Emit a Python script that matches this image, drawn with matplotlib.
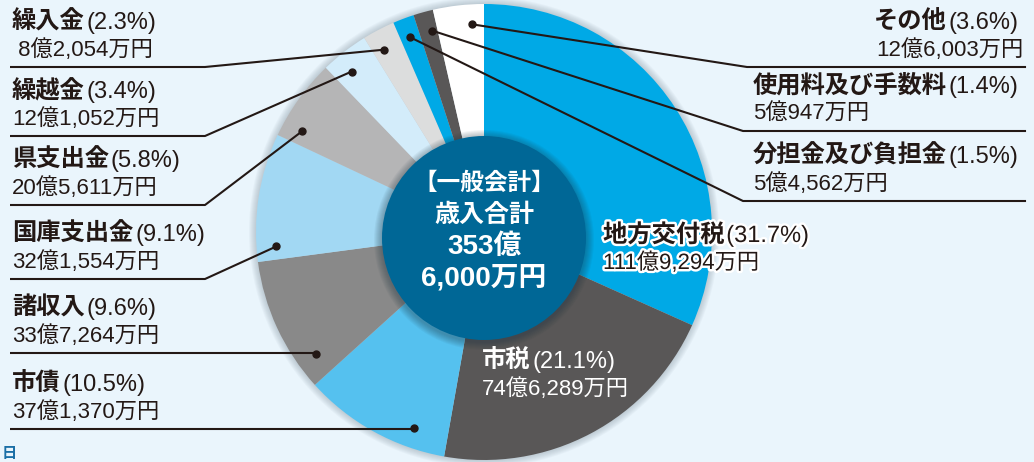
import matplotlib.pyplot as plt
import matplotlib.patheffects as pe
from matplotlib.patches import Circle
import numpy as np

# 数字は Helvetica 風、漢字は Noto Sans CJK JP にフォールバック
plt.rcParams['font.family'] = ['Liberation Sans', 'Noto Sans CJK JP', 'DejaVu Sans']

# 歳入の内訳（時計回り、12時の位置から）
names = ['地方交付税', '市税', '市債', '諸収入', '国庫支出金', '県支出金',
         '繰越金', '繰入金', '分担金及び負担金', '使用料及び手数料', 'その他']
shares = [31.7, 21.1, 10.5, 9.6, 9.1, 5.8, 3.4, 2.3, 1.5, 1.4, 3.6]
amounts = ['111億9,294万円', '74億6,289万円', '37億1,370万円', '33億7,264万円',
           '32億1,554万円', '20億5,611万円', '12億1,052万円', ' 8億2,054万円',
           '5億4,562万円', '5億947万円', '12億6,003万円']
total_lines = ['【一般会計】', '歳入合計', '353億', '6,000万円']

colors = ['#00A9E6', '#595757', '#55C1EF', '#898989', '#A2D8F3', '#B5B5B6',
          '#D3ECFA', '#DCDDDD', '#00A9E6', '#595757', '#FFFFFF']

BG = '#EAF5FC'
INK = '#231815'
cx, cy, R = 484, 232, 228

fig = plt.figure(figsize=(10.34, 4.62), dpi=100, facecolor=BG)
ax = fig.add_axes([0, 0, 1, 1])
ax.set_facecolor(BG)

# 円の影
for k in range(1, 8):
    ax.add_patch(Circle((cx, cy), R + k, color='#7a8a96', alpha=0.06, lw=0, zorder=0.5))

# y軸が下向きなので startangle=270, counterclock=True で見た目は時計回り
ax.pie(shares, colors=colors, startangle=270, counterclock=True,
       radius=R, center=(cx, cy), wedgeprops=dict(linewidth=0), frame=True)

# 中央の円
icx, icy, ir = 484, 238, 102
for k in range(1, 9):
    ax.add_patch(Circle((icx, icy + 2), ir + k, color='#1d3440', alpha=0.05, lw=0, zorder=3))
ax.add_patch(Circle((icx, icy), ir, color='#006796', lw=0, zorder=4))

ax.set_xlim(0, 1034)
ax.set_ylim(462, 0)
ax.set_aspect('auto')
ax.axis('off')

center_y = [190, 222, 254, 285]
center_fs = [17, 18, 20, 20]
for s, y, fs in zip(total_lines, center_y, center_fs):
    ax.text(icx, y, s, color='white', fontsize=fs, fontweight='bold',
            ha='center', va='baseline', zorder=5)

renderer = fig.canvas.get_renderer()
inv = ax.transData.inverted()

NAME_FS, PCT_FS, VAL_FS = 17.5, 17, 16


def label(x, y_under, name, pct, amount, ha='left', color=INK, effects=None, z=6):
    """名前（太字）＋割合、その下に金額"""
    yb = y_under - 38
    kw = dict(va='baseline', zorder=z, color=color, path_effects=effects)
    if ha == 'left':
        t = ax.text(x, yb, name, fontsize=NAME_FS, fontweight='bold', ha='left', **kw)
        x1 = inv.transform(t.get_window_extent(renderer))[1][0]
        ax.text(x1 + 2, yb, pct, fontsize=PCT_FS, ha='left', **kw)
        ax.text(x, y_under - 11, amount, fontsize=VAL_FS, ha='left', **kw)
    else:
        t = ax.text(x, yb, pct, fontsize=PCT_FS, ha='right', **kw)
        x0 = inv.transform(t.get_window_extent(renderer))[0][0]
        ax.text(x0 - 2, yb, name, fontsize=NAME_FS, fontweight='bold', ha='right', **kw)
        ax.text(x + 4, y_under - 11, amount, fontsize=VAL_FS, ha='right', **kw)


# 引き出し線の配置（ラベル位置と扇形内の点の位置）
cum = np.concatenate([[0], np.cumsum(shares)])
callouts = {
    # name: (side, underline y, bend x, fraction inside wedge)
    '市債': ('L', 429, None, 0.25),
    '諸収入': ('L', 353, None, 0.18),
    '国庫支出金': ('L', 279, 205, 0.11),
    '県支出金': ('L', 205, 205, 0.18),
    '繰越金': ('L', 136, 205, 0.36),
    '繰入金': ('L', 67, 205, 0.35),
    'その他': ('R', 67, 747, 0.75),
    '使用料及び手数料': ('R', 131, 743, 0.7),
    '分担金及び負担金': ('R', 201, 743, 0.5),
}
rd = 208
for i, nm in enumerate(names):
    pct = f'({shares[i]}%)'
    if nm not in callouts:
        continue
    side, uy, bx, fr = callouts[nm]
    th = np.deg2rad(3.6 * (cum[i] + fr * shares[i]))
    dx, dy = cx + rd * np.sin(th), cy - rd * np.cos(th)
    if side == 'L':
        bend = dx if bx is None else bx
        ax.plot([10, bend, dx], [uy, uy, dy], color=INK, lw=1.5, zorder=7,
                solid_capstyle='butt')
        label(12, uy, nm, pct, amounts[i])
    else:
        ax.plot([1025, bx, dx], [uy, uy, dy], color=INK, lw=1.5, zorder=7)
        if nm == 'その他':
            label(1019, uy, nm, pct, amounts[i], ha='right')
        else:
            label(753, uy, nm, pct, amounts[i])
    ax.plot(dx, dy, 'o', color=INK, ms=5, zorder=8)

# 扇形の中に置くラベル
white_edge = [pe.withStroke(linewidth=3.5, foreground='white')]
label(603, 280, names[0], f'({shares[0]}%)', amounts[0], effects=white_edge)
label(482, 406, names[1], f'({shares[1]}%)', amounts[1], color='white')

ax.text(2, 458, '日', color='#1B6FA6', fontsize=11, fontweight='bold', va='baseline')

fig.savefig('out.png', dpi=100, facecolor=BG)
